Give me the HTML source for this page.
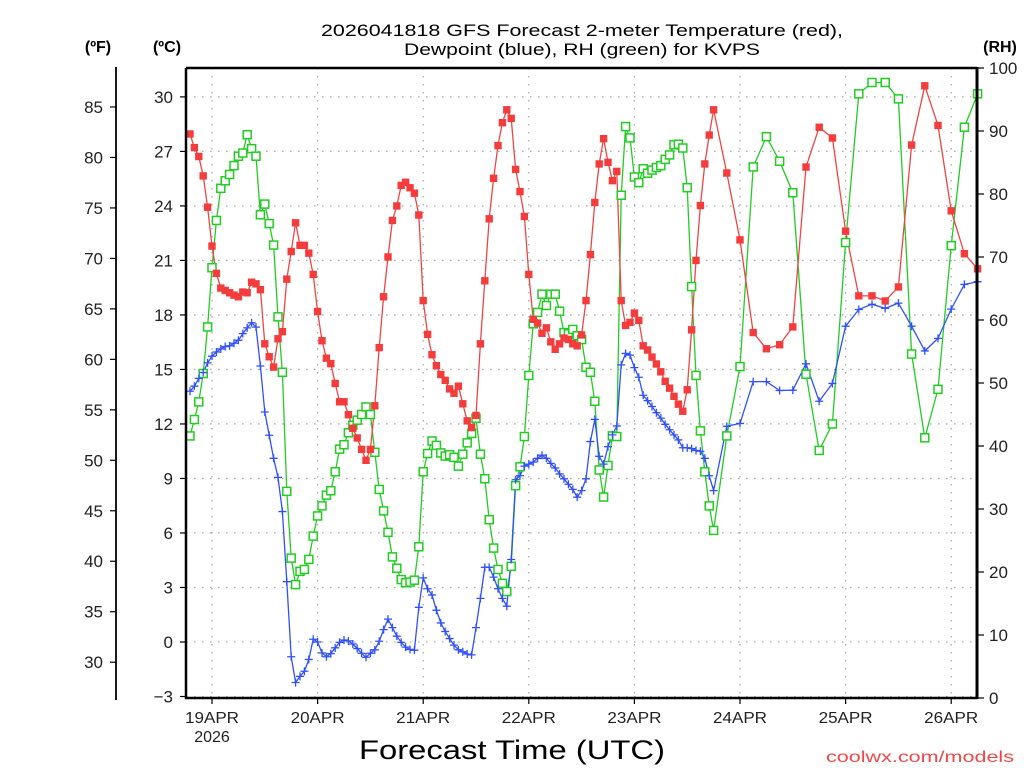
<!DOCTYPE html>
<html><head><meta charset="utf-8">
<style>
html,body{margin:0;padding:0;background:#fff;}
svg{display:block;font-family:"Liberation Sans",sans-serif;}
</style></head>
<body>
<svg id="chart" width="1024" height="768" viewBox="0 0 1024 768" xmlns="http://www.w3.org/2000/svg">
<rect x="0" y="0" width="1024" height="768" fill="#fff"/>
<g id="grid"></g>
<g id="series"></g>
<g id="axes"></g>
<text x="582" y="36" text-anchor="middle" font-size="17" textLength="522" lengthAdjust="spacingAndGlyphs">2026041818 GFS Forecast 2-meter Temperature (red),</text>
<text x="582" y="55" text-anchor="middle" font-size="17" textLength="356" lengthAdjust="spacingAndGlyphs">Dewpoint (blue), RH (green) for KVPS</text>
<text x="98" y="52" text-anchor="middle" font-size="16" font-weight="bold">(ºF)</text>
<text x="167" y="52" text-anchor="middle" font-size="16" font-weight="bold">(ºC)</text>
<text x="1000" y="52" text-anchor="middle" font-size="16" font-weight="bold">(RH)</text>
<text x="512" y="759" text-anchor="middle" font-size="27" textLength="306" lengthAdjust="spacingAndGlyphs">Forecast Time (UTC)</text>
<text x="920" y="762" text-anchor="middle" font-size="16" fill="#f04848" textLength="188" lengthAdjust="spacingAndGlyphs">coolwx.com/models</text>
</svg>
<script>
// hours after 2026-04-18 19Z (f001 = 0)
const hoursHourly = Array.from({length:120},(_,i)=>i);
const hours3h = [122,125,128,131,134,137,140,143,146,149,152,155,158,161,164,167,170,173,176,179];
const tempC = [27.96,27.21,26.72,25.65,23.93,21.79,20.29,19.48,19.35,19.22,19.09,19.0,19.26,19.22,19.80,19.71,19.39,16.41,15.70,15.13,16.69,17.08,19.97,21.49,23.07,21.83,21.83,21.40,20.23,18.19,16.58,15.62,15.32,14.23,13.22,13.22,12.51,11.76,11.23,10.60,10.0,10.60,13.0,16.20,19.0,21.19,23.20,24.0,25.13,25.30,25.0,24.70,23.50,18.79,16.93,15.81,15.21,14.72,14.40,13.93,13.69,
14.08,13.11,12.17,11.80,12.47,16.41,19.88,23.29,25.52,27.32,28.58,29.29,28.82,26.01,24.79,23.42,20.23,17.76,17.55,16.99,17.29,16.52,16.11,16.41,16.73,16.65,16.41,16.30,16.90,18.79,21.32,24.19,26.31,27.70,26.40,25.39,25.90,18.79,17.42,17.59,18.10,17.70,16.30,16.07,15.68,15.30,14.87,14.35,13.97,13.52,13.09,12.70,13.88,17.18,21.0,24.02,26.31,27.90,29.29,
25.81,22.13,17.03,16.14,16.36,17.34,26.14,28.33,27.74,22.61,19.05,19.05,18.77,19.54,27.35,30.61,28.43,23.73,21.37,20.54];
const dewpC = [13.80,14.08,14.51,14.83,15.36,15.73,15.96,16.13,16.26,16.30,16.44,16.61,16.97,17.29,17.57,17.33,15.19,12.66,11.38,10.11,9.06,7.18,3.32,-0.81,-2.23,-1.89,-1.61,-0.96,0.15,0.0,-0.60,-0.81,-0.64,-0.32,-0.02,0.11,0.06,-0.11,-0.36,-0.62,-0.84,-0.62,-0.43,0.04,0.68,1.26,0.79,0.32,-0.02,-0.28,-0.41,-0.45,1.91,3.53,2.93,2.59,1.75,1.05,0.58,0.19,-0.17,
-0.43,-0.54,-0.66,-0.71,0.79,2.40,4.11,4.11,3.57,2.93,2.40,1.97,4.54,8.93,9.15,9.68,9.79,9.90,10.11,10.28,10.11,9.83,9.58,9.25,8.98,8.68,8.40,7.97,8.33,8.98,11.03,12.25,10.22,9.79,10.75,11.40,11.89,15.25,15.88,15.79,15.10,14.57,13.58,13.28,12.96,12.62,12.32,11.98,11.68,11.40,11.12,10.69,10.69,10.65,10.54,10.50,10.11,9.15,8.33,
11.87,12.03,14.33,14.33,13.84,13.86,15.31,13.25,14.23,17.38,18.30,18.59,18.36,18.65,17.38,16.02,16.71,18.32,19.68,19.83];
const rhPct = [41.6,44.2,47.0,51.5,58.9,68.3,75.8,80.9,82.1,83.1,84.5,86.0,86.5,89.4,87.2,86.0,76.7,78.4,75.3,71.9,60.5,51.7,32.8,22.2,18.0,20.1,20.4,22.0,25.7,28.9,30.5,32.2,32.9,35.9,39.5,40.2,42.1,43.3,44.1,45.0,46.2,45.0,39.0,33.1,29.7,26.3,22.4,20.6,18.8,18.3,18.4,18.7,24.0,35.9,38.8,40.8,40.1,38.9,38.4,38.6,38.2,
36.8,38.7,40.5,42.0,44.4,38.7,34.8,28.3,23.8,20.4,18.2,16.9,20.9,33.7,36.7,41.5,51.2,59.4,61.2,64.1,62.3,64.1,64.1,61.4,58.0,57.8,58.5,57.5,56.9,52.5,51.7,47.1,36.2,31.9,36.9,41.6,41.5,79.8,90.7,88.9,82.7,81.8,84.0,83.3,83.8,84.2,84.5,85.5,86.2,87.8,87.9,87.3,81.0,65.3,51.2,42.4,35.9,30.5,26.6,
41.6,52.6,84.3,89.1,85.2,80.2,51.4,39.3,43.5,72.3,95.9,97.7,97.7,95.1,54.6,41.3,49.0,71.8,90.6,95.9];
const celsiusTicks = [-3,0,3,6,9,12,15,18,21,24,27,30];
const fahrenheitTicks = [30,35,40,45,50,55,60,65,70,75,80,85];
const rhTicks = [0,10,20,30,40,50,60,70,80,90,100];
const dayLabels = ["19APR","20APR","21APR","22APR","23APR","24APR","25APR","26APR"];
const dayHours = [5,29,53,77,101,125,149,173];

const NS="http://www.w3.org/2000/svg";
const L=186,R=977,T=68,B=698;
const xs=h=>190+h*4.4;
const yC=c=>642-c*18.17;
const yF=f=>yC((f-32)*5/9);
const yRH=r=>B-(r/100)*(B-T);
function mk(tag,attrs,parent){const e=document.createElementNS(NS,tag);for(const k in attrs)e.setAttribute(k,attrs[k]);parent.appendChild(e);return e;}
const grid=document.getElementById('grid'),ser=document.getElementById('series'),ax=document.getElementById('axes');
const allHours=hoursHourly.concat(hours3h);

// grid
celsiusTicks.forEach(c=>{const l=mk('line',{x1:L,x2:R,y1:yC(c),y2:yC(c),stroke:'#aaa','stroke-width':1.3,'stroke-dasharray':'1.5,6.5'},grid);

});
dayHours.forEach(h=>{const l=mk('line',{x1:xs(h),x2:xs(h),y1:T,y2:B,stroke:'#aaa','stroke-width':1.3,'stroke-dasharray':'1.5,6.5'},grid);

});

// series
function series(vals,yfn,color,name){
  const pts=allHours.map((h,i)=>xs(h).toFixed(1)+','+yfn(vals[i]).toFixed(1)).join(' ');
  const pl=mk('polyline',{points:pts,fill:'none',stroke:color,'stroke-width':1.3},ser);
  
  
}
series(rhPct,yRH,'#22cc22','rh');
series(tempC,yC,'#f04444','temperature');
series(dewpC,yC,'#3050ff','dewpoint');
allHours.forEach((h,i)=>{
  const x=xs(h),y=yRH(rhPct[i]);
  const r=mk('rect',{x:x-4,y:y-4,width:8,height:8,fill:'#fff',stroke:'#22cc22','stroke-width':1.5},ser);
  
  
});
allHours.forEach((h,i)=>{
  const x=xs(h),y=yC(tempC[i]);
  const r=mk('rect',{x:x-3.7,y:y-3.7,width:7.4,height:7.4,fill:'#f43c3c'},ser);
  
  
});
allHours.forEach((h,i)=>{
  const x=xs(h),y=yC(dewpC[i]);
  const p=mk('path',{d:`M${x-4},${y}H${x+4}M${x},${y-4}V${y+4}`,stroke:'#3050ff','stroke-width':1.3,fill:'none'},ser);
  
  
});

// axes
const frame=mk('path',{d:`M${L},${T}H${R}M${L},${T}V${B}H${R}`,stroke:'#000','stroke-width':2.5,fill:'none'},ax);


const rax=mk('line',{x1:R,x2:R,y1:T-1,y2:B+1,stroke:'#000','stroke-width':3},ax);


const fax=mk('line',{x1:116,x2:116,y1:67,y2:700,stroke:'#000','stroke-width':1.8},ax);


celsiusTicks.forEach(c=>{
  const t=mk('line',{x1:L-6,x2:L,y1:yC(c),y2:yC(c),stroke:'#000','stroke-width':1.2},ax);
  
  
  const tx=mk('text',{x:173,y:yC(c)+6,'text-anchor':'end','font-size':17,fill:'#222'},ax);
  tx.textContent=c<0?'\u2212'+Math.abs(c):String(c);
  
  
});
fahrenheitTicks.forEach(f=>{
  const t=mk('line',{x1:110,x2:116,y1:yF(f),y2:yF(f),stroke:'#000','stroke-width':1.2},ax);
  
  
  const tx=mk('text',{x:103,y:yF(f)+6,'text-anchor':'end','font-size':17,fill:'#222'},ax);
  tx.textContent=String(f);
  
  
});
rhTicks.forEach(r=>{
  const t=mk('line',{x1:R,x2:R+7,y1:yRH(r),y2:yRH(r),stroke:'#000','stroke-width':1.2},ax);
  
  
  const tx=mk('text',{x:989,y:yRH(r)+6,'text-anchor':'start','font-size':17,fill:'#222'},ax);
  tx.textContent=String(r);
  
  
});
dayHours.forEach((h,i)=>{
  const t=mk('line',{x1:xs(h),x2:xs(h),y1:B,y2:B+6,stroke:'#000','stroke-width':1.2},ax);
  
  
  const tx=mk('text',{x:xs(h),y:723,'text-anchor':'middle','font-size':16,fill:'#222',textLength:54,lengthAdjust:'spacingAndGlyphs'},ax);
  tx.textContent=dayLabels[i];
  
  
});
const yr=mk('text',{x:xs(dayHours[0]),y:742,'text-anchor':'middle','font-size':16,fill:'#222'},ax);
yr.textContent='2026';


</script>
</body></html>
